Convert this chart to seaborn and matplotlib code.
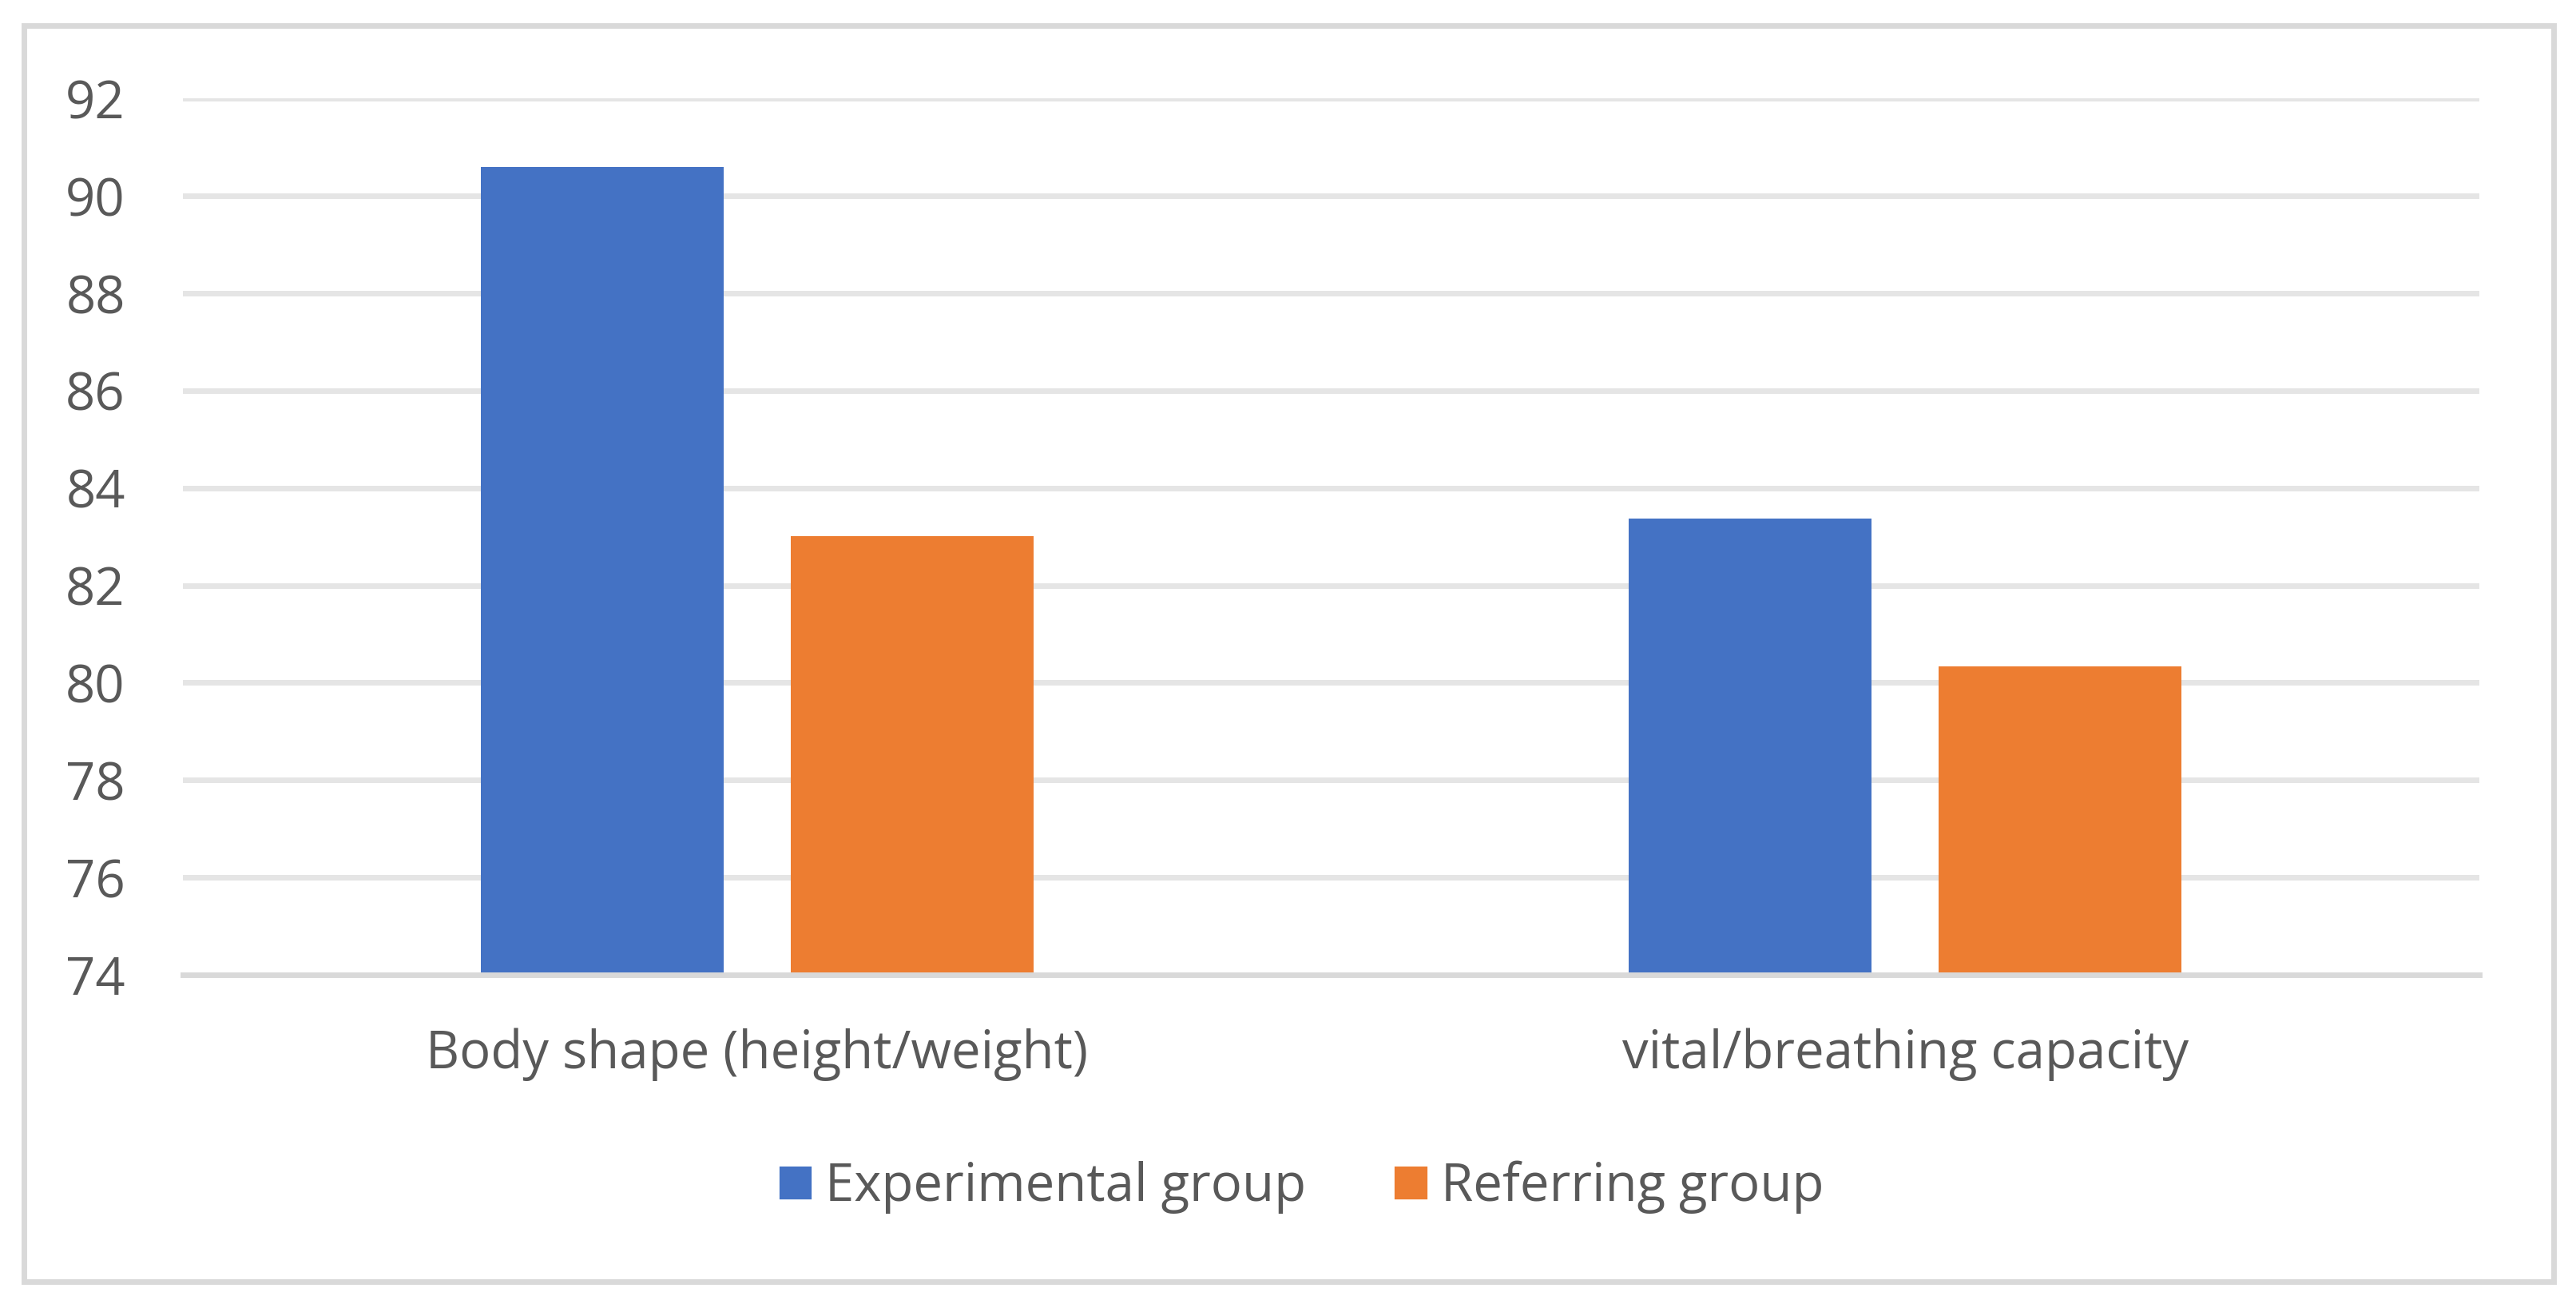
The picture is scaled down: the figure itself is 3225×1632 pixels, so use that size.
import pandas as pd
import seaborn as sns
import matplotlib.pyplot as plt
from matplotlib.patches import Rectangle

categories = ["Body shape (height/weight)", "vital/breathing capacity"]
groups = ["Experimental group", "Referring group"]
experimental = [90.6, 83.37]
referring = [83.01, 80.34]
y_ticks = [74, 76, 78, 80, 82, 84, 86, 88, 90, 92]

df = pd.DataFrame({
    "Category": categories * 2,
    "Group": [groups[0]] * 2 + [groups[1]] * 2,
    "Value": experimental + referring,
})

sns.set_theme(style="white")
plt.rcParams['font.family'] = ['Open Sans', 'DejaVu Sans']

text_color = "#595959"
fs = 23.5

fig = plt.figure(figsize=(16.125, 8.16), dpi=200)
ax = fig.add_axes([229 / 3225, 1 - 1220 / 1632, (3104 - 229) / 3225, (1220 - 123.4) / 1632])

sns.barplot(data=df, x="Category", y="Value", hue="Group", order=categories,
            hue_order=groups, palette=["#4472C4", "#ED7D31"], width=0.54, gap=0.217,
            saturation=1, ax=ax, zorder=3, legend=True)

# bars start at the bottom of the axis (74), like Excel does
for p in ax.patches:
    h = p.get_height()
    if h > 0:
        p.set_y(74)
        p.set_height(h - 74)
        p.set_linewidth(0)

ax.set_ylim(74, 92)
ax.set_xlim(-0.5, 1.5)
ax.set_yticks(y_ticks)
ax.yaxis.grid(True, color="#E5E5E5", linewidth=2.5, zorder=0)
ax.set_axisbelow(True)
for side in ["top", "right", "left"]:
    ax.spines[side].set_visible(False)
ax.spines["bottom"].set_color("#D9D9D9")
ax.spines["bottom"].set_linewidth(2.5)
ax.spines["bottom"].set_zorder(4)
ax.tick_params(axis="y", length=0, pad=26, labelsize=fs, labelcolor=text_color)
ax.tick_params(axis="x", length=0, pad=24, labelsize=fs, labelcolor=text_color)
ax.set_xlabel("")
ax.set_ylabel("")

handles, labels = ax.get_legend_handles_labels()
ax.get_legend().remove()
fig.legend(handles, labels, loc="center", bbox_to_anchor=(0.505, 0.0895), ncol=2,
           frameon=False, fontsize=fs, labelcolor=text_color, handlelength=0.66,
           handleheight=0.65, handletextpad=0.25, columnspacing=1.67)

# outer chart border
fig.add_artist(Rectangle((30 / 3225, 1 - 1604 / 1632), (3196.5 - 30) / 3225, (1604 - 32) / 1632,
                         transform=fig.transFigure, fill=False, edgecolor="#D9D9D9",
                         linewidth=2.5))

fig.savefig("out.png", dpi=200, facecolor="white")
